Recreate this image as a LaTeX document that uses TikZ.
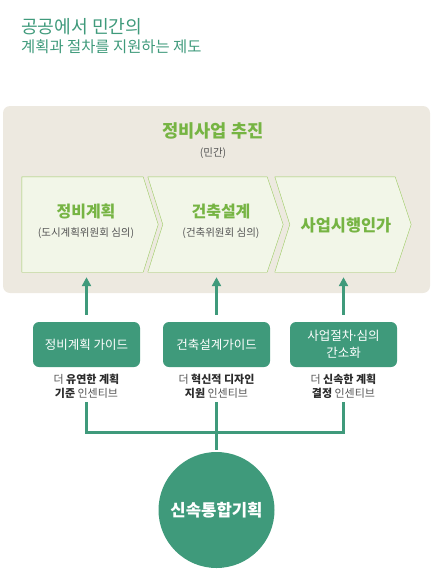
\documentclass[tikz,border=0pt]{standalone}
\usepackage{fontspec}
\setmainfont{Noto Sans CJK KR}
\usepackage{tikz}
\usetikzlibrary{arrows.meta,positioning}
\usepackage{xcolor}
\definecolor{deepteal}{HTML}{3F9A7B}
\definecolor{sand}{HTML}{EDE9E0}
\definecolor{leaf}{HTML}{76B443}
\definecolor{paleleaf}{HTML}{F2F6E8}
\definecolor{leafline}{HTML}{9CCB62}
\definecolor{inkgray}{HTML}{555555}
\definecolor{inkdark}{HTML}{2B2B2B}

\begin{document}
\begin{tikzpicture}[x=1pt, y=-1pt, >=Latex,
  stage/.style={minimum width=121pt, minimum height=95pt, inner sep=0pt},
  guide/.style={fill=deepteal, rounded corners=6pt, text=white, align=center,
    minimum width=107pt, minimum height=45pt, inner sep=0pt,
    font=\fontsize{12.5}{17}\selectfont},
  note/.style={align=center, text=inkgray, font=\fontsize{11}{14.5}\selectfont},
  link/.style={deepteal, line width=3pt}]
  \useasboundingbox (0,0) rectangle (434,586);
  % title
  \node[anchor=west, inner sep=0pt, text=deepteal, font=\fontsize{18.2}{20}\selectfont] (head) at (21,27) {공공에서 민간의};
  \node[anchor=west, inner sep=0pt, text=deepteal, font=\fontsize{15.4}{17}\selectfont] (subhead) at (21,47) {계획과 절차를 지원하는 제도};
  % private side
  \fill[sand, rounded corners=7pt] (3,106) rectangle (430,293);
  \node[text=leaf, font=\fontsize{17.6}{20}\bfseries] (proj) at (213,131) {정비사업 추진};
  \node[text=inkgray, font=\fontsize{10.5}{12}\selectfont] (priv) at (213,153) {(민간)};
  \node[stage] (s1) at (82.5,224.5) {};
  \node[stage, minimum width=119pt] (s2) at (207.5,224.5) {};
  \node[stage, minimum width=120pt] (s3) at (335,224.5) {};
  \draw[leafline, fill=paleleaf] (s1.north west) -- (s1.north east) -- ([xshift=15pt]s1.east)
    -- (s1.south east) -- (s1.south west) -- cycle;
  \foreach \s in {s2,s3}
    \draw[leafline, fill=paleleaf] (\s.north west) -- (\s.north east) -- ([xshift=16pt]\s.east)
      -- (\s.south east) -- (\s.south west) -- ([xshift=15pt]\s.west) -- cycle;
  \node[align=center, text=leaf, font=\fontsize{16}{18}\bfseries] (t1) at (86,221)
    {정비계획\\[1pt]{\color{inkgray}\fontsize{10.5}{12}\mdseries (도시계획위원회 심의)}};
  \node[align=center, text=leaf, font=\fontsize{16}{18}\bfseries] (t2) at (221,221)
    {건축설계\\[1pt]{\color{inkgray}\fontsize{10.5}{12}\mdseries (건축위원회 심의)}};
  \node[text=leaf, font=\fontsize{16.4}{18}\bfseries] (t3) at (346,225) {사업시행인가};
  % guides
  \node[guide] (g1) at (86.5,344.5) {정비계획 가이드};
  \node[guide] (g2) at (216.5,344.5) {건축설계가이드};
  \node[guide] (g3) at (343.5,344.5) {사업절차\kern-2pt·\kern-2pt심의\\간소화};
  \node[note, below=3pt of g1] (n1) {더 {\color{inkdark}\bfseries 유연한 계획}\\{\color{inkdark}\bfseries 기준} 인센티브};
  \node[note, below=3pt of g2] (n2) {더 {\color{inkdark}\bfseries 혁신적 디자인}\\{\color{inkdark}\bfseries 지원} 인센티브};
  \node[note, below=3pt of g3] (n3) {더 {\color{inkdark}\bfseries 신속한 계획}\\{\color{inkdark}\bfseries 결정} 인센티브};
  \foreach \i in {1,2,3}
    \draw[link, -{Triangle[width=9pt,length=9pt]}, shorten <=7pt, shorten >=5pt]
      (g\i.north) -- (g\i.north |- s\i.south);
  % public side
  \node[circle, fill=deepteal, minimum size=116pt, text=white,
    font=\fontsize{16.7}{18}\bfseries] (hub) at (216.5,510) {신속통합기획};
  \coordinate (j1) at (86.5,432);
  \coordinate (j3) at (343.5,432);
  \draw[link] (n1.south) -- (j1) -- (j3) -- (n3.south);
  \draw[link, shorten >=2pt] (n2.south) -- (hub.north);
\end{tikzpicture}
\end{document}
